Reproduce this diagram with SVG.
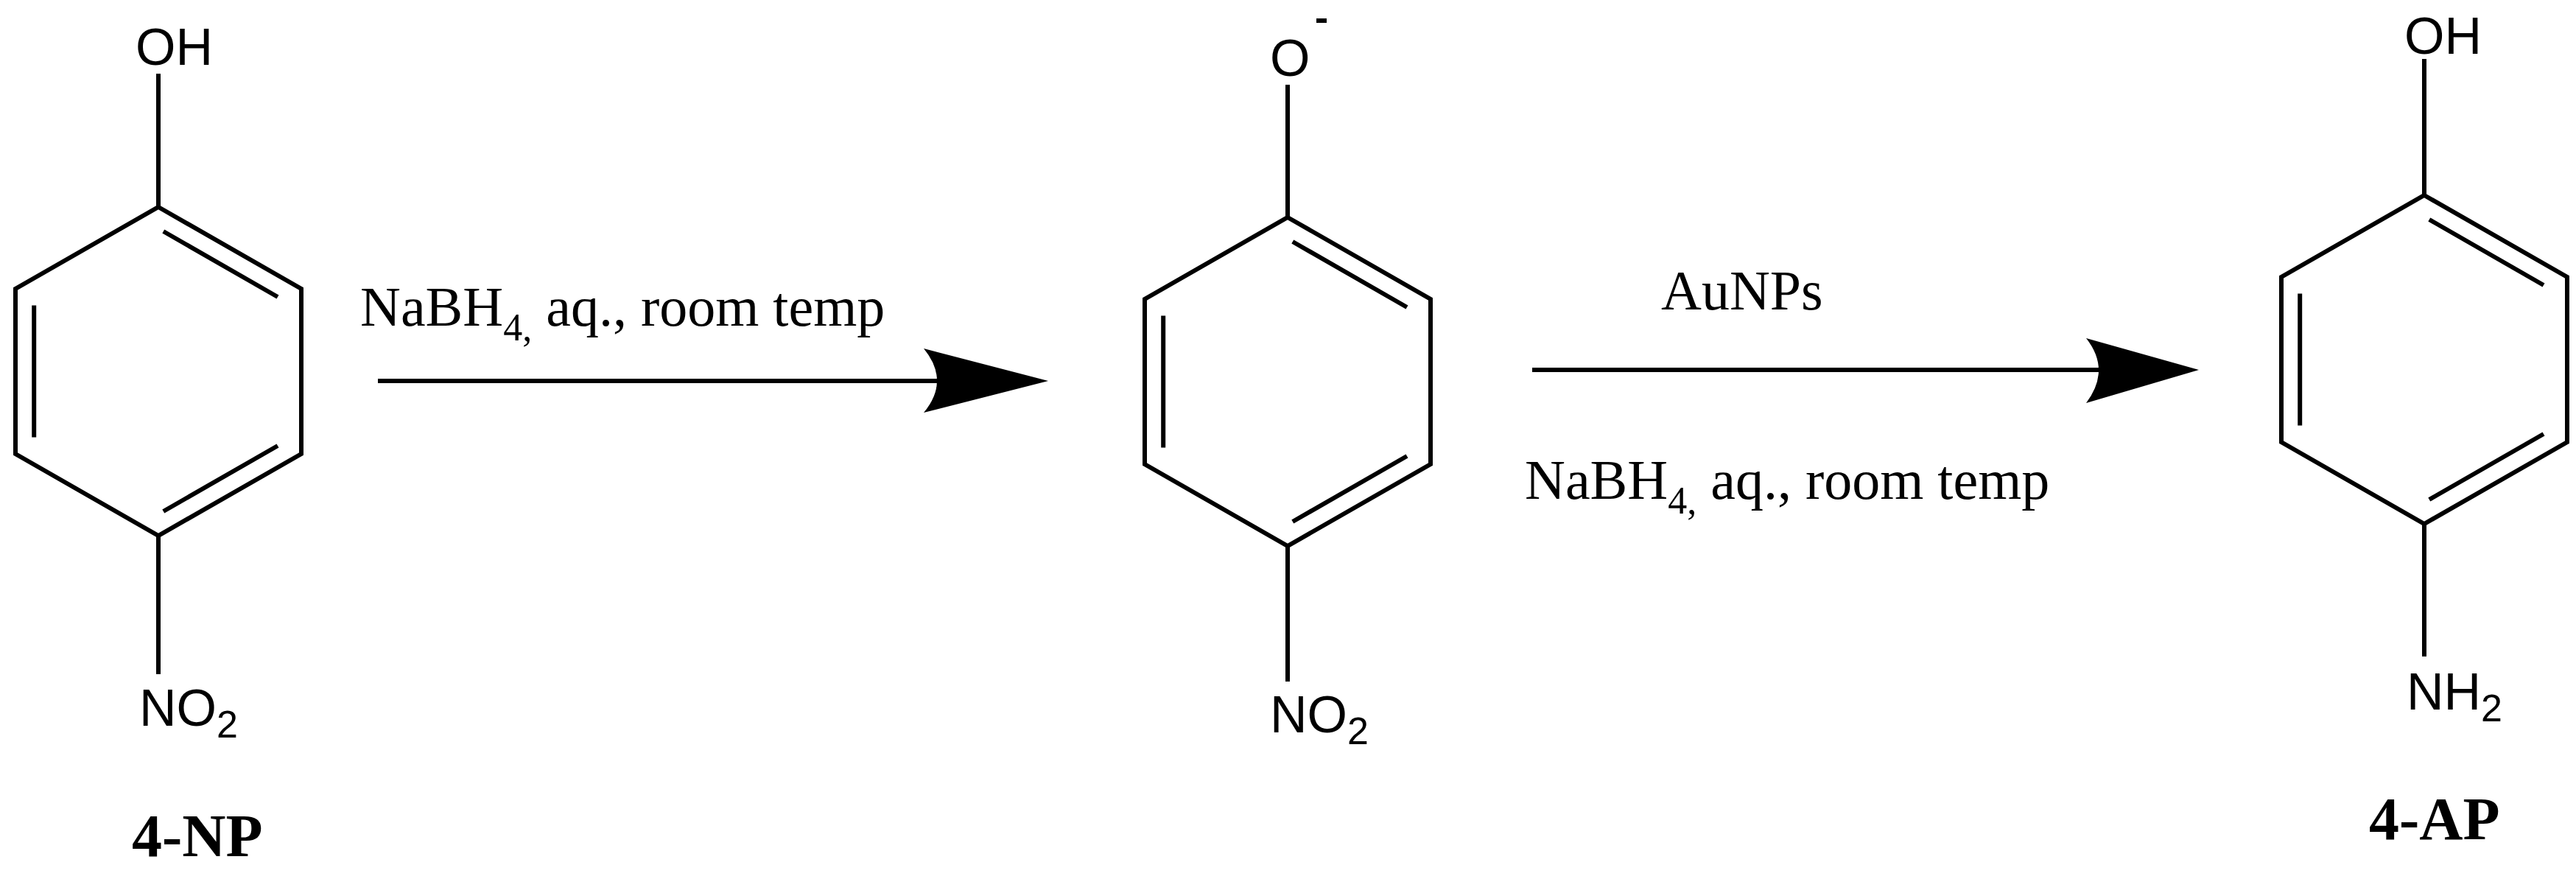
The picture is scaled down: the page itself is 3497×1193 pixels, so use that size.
<svg xmlns="http://www.w3.org/2000/svg" width="3497" height="1193" viewBox="0 0 3497 1193">
<style>
.b{stroke:#000;stroke-width:6;fill:none;stroke-linecap:butt;stroke-linejoin:miter}
.a{font-family:"Liberation Sans",Arial,sans-serif;font-size:70px;fill:#000}
.s{font-size:52px}
.t{font-family:"Liberation Serif","Times New Roman",serif;font-size:76px;fill:#000}
.n{font-family:"Liberation Serif","Times New Roman",serif;font-size:82px;font-weight:bold;fill:#000}
</style>
<defs>
<g id="ring">
<polygon class="b" points="0,-223 194,-112 194,112 0,223 -194,112 -194,-112"/>
<line class="b" x1="6.8" y1="-190" x2="162" y2="-101"/>
<line class="b" x1="-168.8" y1="89.6" x2="-168.8" y2="-89.6"/>
<line class="b" x1="162" y1="101" x2="6.8" y2="190"/>
</g>
</defs>
<g id="np">
<g transform="translate(215,504)"><use href="#ring"/><line class="b" x1="0" y1="-404" x2="0" y2="-223"/><line class="b" x1="0" y1="223" x2="0" y2="411"/></g>
<text class="a" x="184" y="88">OH</text>
<text class="a" x="189" y="985">NO<tspan class="s" dy="16">2</tspan></text>
<text class="n" x="179" y="1162">4-NP</text>
</g>
<g id="phenolate">
<g transform="translate(1748,518)"><use href="#ring"/><line class="b" x1="0" y1="-403" x2="0" y2="-223"/><line class="b" x1="0" y1="223" x2="0" y2="407"/></g>
<text class="a" x="1724" y="103">O</text>
<line class="b" x1="1787" y1="28" x2="1801" y2="28"/>
<text class="a" x="1724" y="994">NO<tspan class="s" dy="16">2</tspan></text>
</g>
<g id="ap">
<g transform="translate(3291,488)"><use href="#ring"/><line class="b" x1="0" y1="-408" x2="0" y2="-223"/><line class="b" x1="0" y1="223" x2="0" y2="403"/></g>
<text class="a" x="3264" y="73">OH</text>
<text class="a" x="3267" y="963">NH<tspan class="s" dy="16">2</tspan></text>
<text class="n" x="3216" y="1139">4-AP</text>
</g>
<g id="connectors">
<line class="b" x1="513" y1="517" x2="1290" y2="517"/>
<path d="M1254,473 L1423,517 L1254,560 Q1290,517 1254,473Z" fill="#000"/>
<text class="t" x="489" y="442">NaBH<tspan class="s" dy="20">4,</tspan><tspan dy="-20"> aq., room temp</tspan></text>
<line class="b" x1="2080" y1="502" x2="2866" y2="502"/>
<path d="M2832,459 L2985,502 L2832,547 Q2866,502 2832,459Z" fill="#000"/>
<text class="t" x="2255" y="420">AuNPs</text>
<text class="t" x="2070" y="677">NaBH<tspan class="s" dy="20">4,</tspan><tspan dy="-20"> aq., room temp</tspan></text>
</g>
</svg>
